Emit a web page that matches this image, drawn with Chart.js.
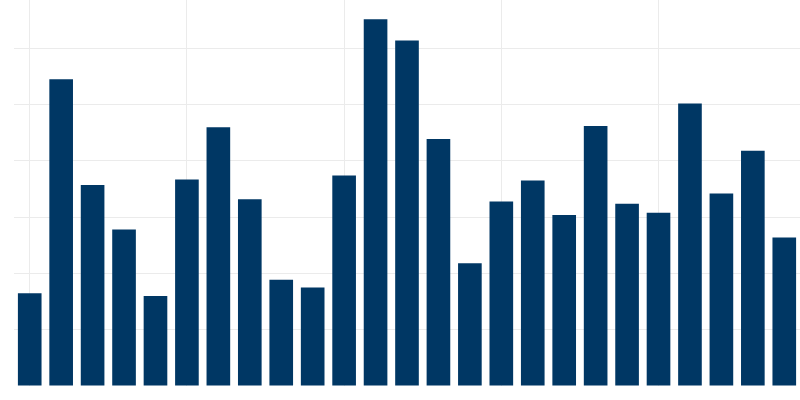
<!DOCTYPE html>
<html lang="en">
<head>
  <meta charset="UTF-8" />
  <title>Bar chart</title>
  <script src="https://cdn.jsdelivr.net/npm/chart.js"></script>
  <style>
    body {
      margin: 0;
      background: #ffffff;
    }
    #chartContainer {
      width: 800px;
      height: 400px;
    }
  </style>
</head>
<body>
  <div id="chartContainer">
    <canvas id="barChart"></canvas>
  </div>

  <script>
    const labels = ['1', '2', '3', '4', '5', '6', '7', '8', '9', '10', '11', '12', '13',
                    '14', '15', '16', '17', '18', '19', '20', '21', '22', '23', '24', '25'];
    const values = [16.5, 54.5, 35.7, 27.8, 16.0, 36.7, 46.0, 33.2, 18.9, 17.5, 37.4, 65.2, 61.4,
                    43.9, 21.8, 32.8, 36.5, 30.4, 46.2, 32.4, 30.8, 50.2, 34.2, 41.8, 26.4];
    const yMax = 68.6;
    const yStep = 10;

    const gridColor = '#ebebeb';

    const ctx = document.getElementById('barChart').getContext('2d');
    new Chart(ctx, {
      type: 'bar',
      data: {
        labels,
        datasets: [{
          data: values,
          backgroundColor: '#003764',
          borderWidth: 0,
          barPercentage: 0.94,
          categoryPercentage: 0.8
        }]
      },
      options: {
        responsive: true,
        maintainAspectRatio: false,
        animation: false,
        layout: { padding: { left: 14, bottom: 14, top: 0, right: 0 } },
        plugins: {
          legend: { display: false },
          tooltip: { enabled: false }
        },
        scales: {
          x: {
            ticks: { display: false },
            border: { display: false },
            grid: {
              offset: false,
              drawTicks: false,
              color: c => (c.index % 5 === 0 ? gridColor : 'rgba(0,0,0,0)')
            }
          },
          y: {
            min: 0,
            max: yMax,
            ticks: { display: false, stepSize: yStep },
            border: { display: false },
            grid: {
              drawTicks: false,
              color: c => (c.tick && c.tick.value > 0 && c.tick.value % yStep === 0 ? gridColor : 'rgba(0,0,0,0)')
            }
          }
        }
      }
    });
  </script>
</body>
</html>
